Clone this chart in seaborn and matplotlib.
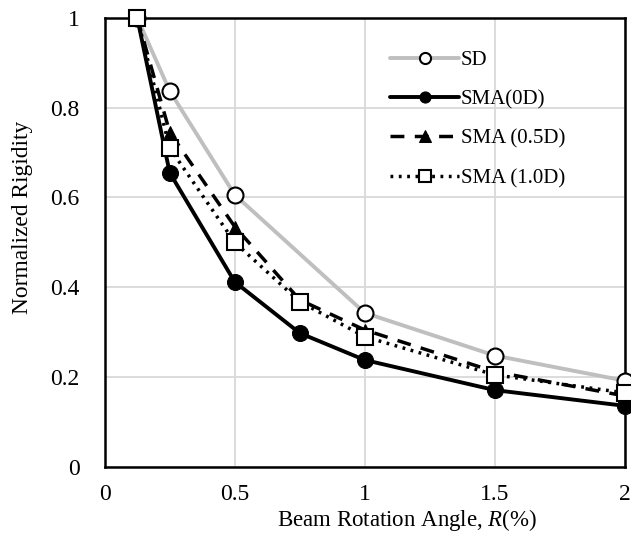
import matplotlib
matplotlib.use("Agg")
import matplotlib.pyplot as plt
import seaborn as sns
import pandas as pd

sd_x = [0.125, 0.25, 0.5, 1.0, 1.5, 2.0]
sd_y = [1.0, 0.837, 0.606, 0.343, 0.248, 0.192]

x_all = [0.125, 0.25, 0.5, 0.75, 1.0, 1.5, 2.0]
sma0_y = [1.0, 0.655, 0.412, 0.298, 0.238, 0.171, 0.136]
sma05_y = [1.0, 0.745, 0.535, 0.372, 0.305, 0.212, 0.158]
sma10_y = [1.0, 0.71, 0.50, 0.368, 0.29, 0.205, 0.165]

labels = ["SD", "SMA(0D)", "SMA (0.5D)", "SMA (1.0D)"]
x_ticks = [0, 0.5, 1, 1.5, 2]
y_ticks = [0, 0.2, 0.4, 0.6, 0.8, 1]

sns.set_theme(style="white")
plt.rcParams['font.family'] = ['Liberation Serif', 'DejaVu Serif']
plt.rcParams['mathtext.fontset'] = 'custom'
plt.rcParams['mathtext.it'] = 'Liberation Serif:italic'
plt.rcParams['mathtext.rm'] = 'Liberation Serif'

fig = plt.figure(figsize=(6.31, 5.41), dpi=100)
ax = fig.add_axes([0.166, 0.137, 0.824, 0.830])

sns.lineplot(x=sd_x, y=sd_y, ax=ax, color="#bfbfbf", lw=2.8, marker="o",
             markersize=11.5, markerfacecolor="white", markeredgecolor="black",
             markeredgewidth=1.5, label=labels[0], clip_on=False, zorder=3)
sns.lineplot(x=x_all, y=sma0_y, ax=ax, color="black", lw=2.8, marker="o",
             markersize=11.5, markerfacecolor="black", markeredgecolor="black",
             label=labels[1], clip_on=False, zorder=4)
sns.lineplot(x=x_all, y=sma05_y, ax=ax, color="black", lw=2.5, marker="^",
             markersize=9, markerfacecolor="black", markeredgecolor="black",
             linestyle=(0, (4, 3)), label=labels[2], clip_on=False, zorder=5)
sns.lineplot(x=x_all, y=sma10_y, ax=ax, color="black", lw=2.5, marker="s",
             markersize=11.5, markerfacecolor="white", markeredgecolor="black",
             markeredgewidth=1.5, linestyle=(0, (0.8, 1.6)), label=labels[3],
             clip_on=False, zorder=6)

ax.set_xlim(0, 2)
ax.set_ylim(0, 1)
ax.set_xticks(x_ticks)
ax.set_xticklabels(["0", "0.5", "1", "1.5", "2"])
ax.set_yticks(y_ticks)
ax.set_yticklabels(["0", "0.2", "0.4", "0.6", "0.8", "1"])
ax.tick_params(axis='x', labelsize=17, length=0, pad=12, colors="black")
ax.tick_params(axis='y', labelsize=17, length=0, pad=18, colors="black")
ax.grid(True, color="#d9d9d9", lw=1.3)
ax.set_axisbelow(True)
for s in ax.spines.values():
    s.set_color("black")
    s.set_linewidth(1.8)

ax.set_xlabel("Beam Rotation Angle, $\\it{R}$(%)", fontsize=16.5, color="black", va="center")
ax.xaxis.set_label_coords(0.581, -0.118)
ax.set_ylabel("Normalized Rigidity", fontsize=16.8, color="black", va="center")
ax.yaxis.set_label_coords(-0.158, 0.555)

leg = ax.legend(loc="upper left", bbox_to_anchor=(0.533, 0.946), frameon=False,
                fontsize=15, handlelength=3.3, labelspacing=0.95, handletextpad=0.1,
                borderaxespad=0)
for h in leg.legend_handles:
    h.set_markersize(8)
for t in leg.get_texts():
    t.set_color("black")

fig.savefig("out.png", dpi=100)
